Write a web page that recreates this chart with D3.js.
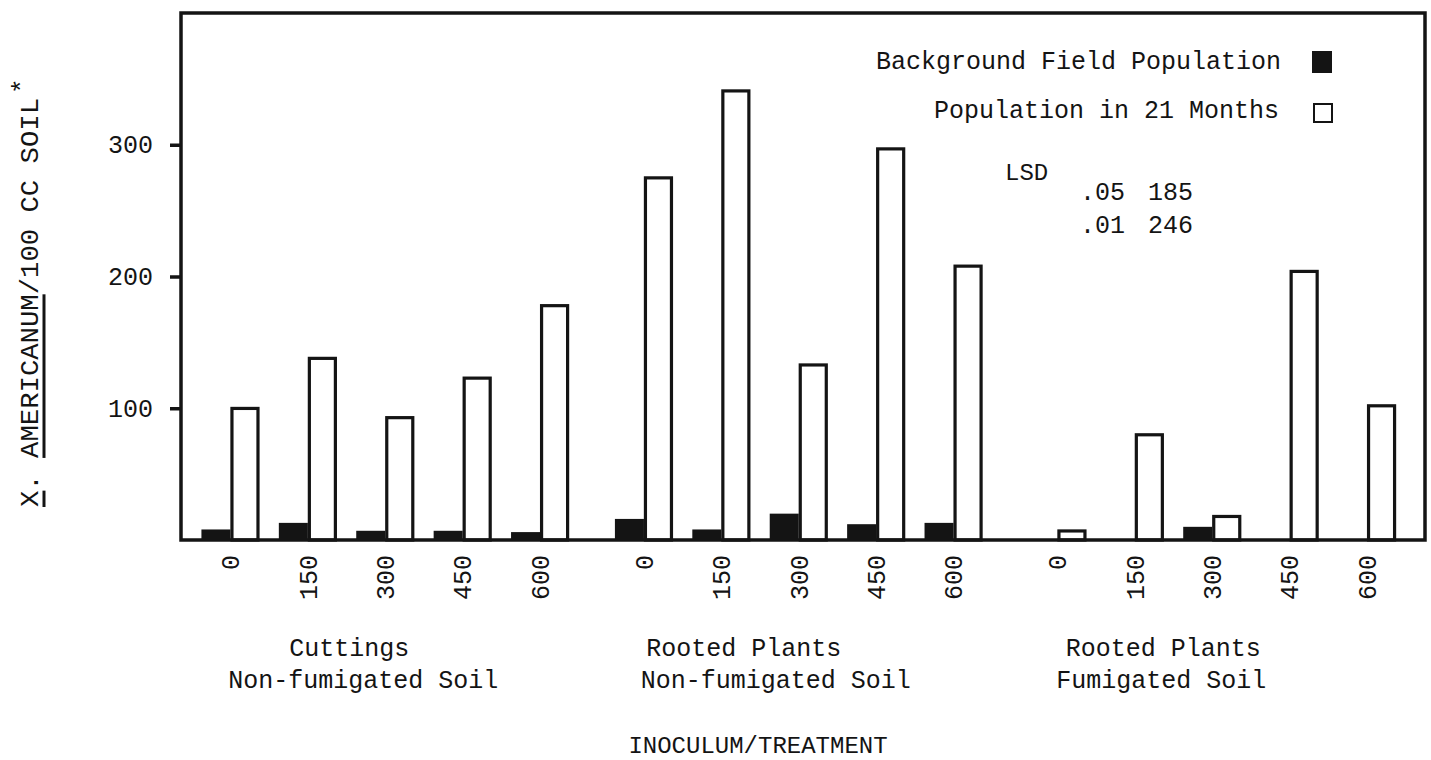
<!DOCTYPE html>
<html>
<head>
<meta charset="utf-8">
<script src="https://cdn.jsdelivr.net/npm/d3@7/dist/d3.min.js"></script>
<style>
  html, body { margin: 0; padding: 0; background: #ffffff; }
  svg { display: block; }
  text { font-family: "Liberation Mono", "Courier New", monospace; fill: #141414; }
</style>
</head>
<body>
<svg id="chart" width="1431" height="760"></svg>
<script>
// ---- data ----
const groups = ["Cuttings|Non-fumigated Soil", "Rooted Plants|Non-fumigated Soil", "Rooted Plants|Fumigated Soil"];
const doses = ["0", "150", "300", "450", "600"];
const seriesNames = ["Background Field Population", "Population in 21 Months"];
const background = [
  [8, 13, 7, 7, 6],
  [16, 8, 20, 12, 13],
  [0, 0, 10, 0, 0]
];
const population21 = [
  [101, 139, 94, 124, 179],
  [276, 342, 134, 298, 209],
  [8, 81, 19, 205, 103]
];
const yTicks = [100, 200, 300];
const lsdRows = [[".05", "185"], [".01", "246"]];

// ---- layout ----
(function () {
const svg = d3.select("#chart");
const ink = "#141414";
const pLeft = 181, pRight = 1425, pTop = 13, pBottom = 540;

const y = d3.scaleLinear().domain([0, 400]).range([pBottom, pTop]);
const x0 = d3.scaleBand().domain(groups).range([191.75, 1405.75]).paddingInner(0.064).paddingOuter(0);
const x1 = d3.scaleBand().domain(doses).range([0, x0.bandwidth()]).paddingInner(0.25).paddingOuter(0.125);
const x2 = d3.scaleBand().domain(seriesNames).range([0, x1.bandwidth()]);

const bars = [];
groups.forEach((g, gi) => {
  doses.forEach((d, di) => {
    bars.push({ g, d, s: seriesNames[0], v: background[gi][di] });
    bars.push({ g, d, s: seriesNames[1], v: population21[gi][di] });
  });
});

const barG = svg.append("g");
barG.selectAll("rect.bg")
  .data(bars.filter(b => b.s === seriesNames[0] && b.v > 0))
  .join("rect")
  .attr("class", "bg")
  .attr("x", b => x0(b.g) + x1(b.d) + x2(b.s))
  .attr("y", b => y(b.v))
  .attr("width", x2.bandwidth())
  .attr("height", b => y(0) - y(b.v))
  .attr("fill", ink);

barG.selectAll("rect.pop")
  .data(bars.filter(b => b.s === seriesNames[1]))
  .join("rect")
  .attr("class", "pop")
  .attr("x", b => x0(b.g) + x1(b.d) + x2(b.s) + 1.5)
  .attr("y", b => y(b.v) + 1.5)
  .attr("width", x2.bandwidth() - 3)
  .attr("height", b => Math.max(0, y(0) - y(b.v) - 1.5))
  .attr("fill", "#ffffff")
  .attr("stroke", ink)
  .attr("stroke-width", 3.2);

// frame
svg.append("path")
  .attr("d", `M${pLeft},${pBottom} L${pLeft},${pTop} L${pRight},${pTop} L${pRight},${pBottom} Z`)
  .attr("fill", "none").attr("stroke", ink).attr("stroke-width", 3.5);

// y axis ticks
const yAxis = d3.axisLeft(y).tickValues(yTicks).tickSize(11).tickPadding(17).tickFormat(d3.format("d"));
const yg = svg.append("g").attr("transform", `translate(${pLeft},0)`).call(yAxis);
yg.select(".domain").remove();
yg.selectAll(".tick line").attr("stroke", ink).attr("stroke-width", 3.5);
yg.selectAll(".tick text").attr("font-size", 25).attr("font-family", "Liberation Mono").attr("fill", ink);

// x tick labels (rotated)
const xLab = svg.append("g");
groups.forEach(g => {
  doses.forEach(d => {
    const cx = x0(g) + x1(d) + x1.bandwidth() / 2;
    xLab.append("text")
      .attr("transform", `translate(${cx},555) rotate(-90)`)
      .attr("text-anchor", "end")
      .attr("dy", "0.35em")
      .attr("font-size", 25)
      .text(d);
  });
});

// group labels
const labelDx = [[-36, -22], [-55, -23], [-49, -51]];
groups.forEach((g, gi) => {
  const cx = x0(g) + x0.bandwidth() / 2;
  g.split("|").forEach((ln, li) => {
    svg.append("text")
      .attr("x", cx + labelDx[gi][li])
      .attr("y", 656 + li * 32)
      .attr("text-anchor", "middle")
      .attr("font-size", 25)
      .text(ln);
  });
});

// x axis title
svg.append("text").attr("x", 758).attr("y", 753).attr("text-anchor", "middle")
  .attr("font-size", 24).text("INOCULUM/TREATMENT");

// y axis title
const yt = svg.append("g").attr("transform", "translate(38,507) rotate(-90)");
const ytText = yt.append("text").attr("x", 0).attr("y", 0).attr("font-size", 26)
  .attr("textLength", 409).attr("lengthAdjust", "spacingAndGlyphs")
  .text("X. AMERICANUM/100 CC SOIL");
yt.append("text").attr("x", 413).attr("y", -8).attr("font-size", 26).text("*");
const node = ytText.node();
const seg = (a, b) => {
  const s = node.getStartPositionOfChar(a).x;
  const e = node.getEndPositionOfChar(b).x;
  yt.append("line").attr("x1", s).attr("x2", e).attr("y1", 6).attr("y2", 6)
    .attr("stroke", ink).attr("stroke-width", 3);
};
seg(0, 0);
seg(3, 12);

// legend
const leg = svg.append("g");
leg.append("text").attr("x", 1281).attr("y", 69).attr("text-anchor", "end").attr("font-size", 25).text(seriesNames[0]);
leg.append("rect").attr("x", 1312).attr("y", 51).attr("width", 20).attr("height", 22).attr("fill", ink);
leg.append("text").attr("x", 1279).attr("y", 118).attr("text-anchor", "end").attr("font-size", 25).text(seriesNames[1]);
leg.append("rect").attr("x", 1314).attr("y", 104).attr("width", 18).attr("height", 18)
  .attr("fill", "#fff").attr("stroke", ink).attr("stroke-width", 2);

// LSD
svg.append("text").attr("x", 1005).attr("y", 180).attr("font-size", 24).text("LSD");
lsdRows.forEach((r, i) => {
  svg.append("text").attr("x", 1080).attr("y", 200 + i * 33).attr("font-size", 25).text(r[0]);
  svg.append("text").attr("x", 1148).attr("y", 200 + i * 33).attr("font-size", 25).text(r[1]);
});
})();
</script>
</body>
</html>
